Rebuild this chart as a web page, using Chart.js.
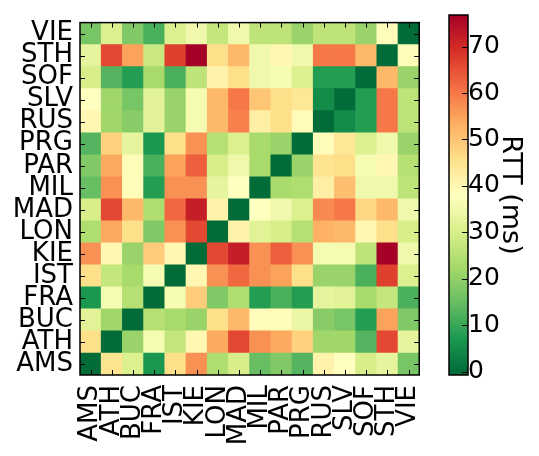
<!DOCTYPE html>
<html lang="en">
<head>
<meta charset="UTF-8" />
<title>RTT heatmap</title>
<script src="https://cdn.jsdelivr.net/npm/chart.js"></script>
<style>
  html, body { margin: 0; padding: 0; background: #fff; }
  #wrap { position: relative; width: 539px; height: 456px; }
  #heat { position: absolute; left: 0; top: 0; }
  #cbar { position: absolute; left: 440px; top: 0; }
</style>
</head>
<body>
<div id="wrap">
  <canvas id="heat" width="450" height="456"></canvas>
  <canvas id="cbar" width="99" height="456"></canvas>
</div>
<script>
  // row/column order, AMS is the bottom row
  const cities = ['AMS', 'ATH', 'BUC', 'FRA', 'IST', 'KIE', 'LON', 'MAD', 'MIL', 'PAR', 'PRG', 'RUS', 'SLV', 'SOF', 'STH', 'VIE'];

  // RTT in ms, one array per row, columns in the order of `cities`
  const AMS = [0, 45, 31, 7, 46, 57, 24, 30, 15, 18, 13, 41, 38, 30, 33, 17];
  const ATH = [46, 0, 21, 36, 27, 40, 54, 66, 57, 54, 48, 22, 22, 13, 66, 33];
  const BUC = [32, 22, 0, 25, 23, 21, 46, 52, 39, 39, 34, 19, 17, 8, 55, 18];
  const FRA = [7, 36, 25, 0, 36, 49, 18, 24, 8, 12, 8, 33, 32, 23, 27, 12];
  const IST = [46, 27, 23, 36, 0, 40, 57, 62, 57, 55, 46, 21, 21, 12, 67, 31];
  const KIE = [57, 40, 21, 49, 40, 0, 66, 72, 57, 63, 57, 36, 36, 26, 77, 35];
  const LON = [24, 54, 46, 18, 57, 66, 0, 41, 32, 30, 25, 53, 52, 40, 46, 30];
  const MAD = [30, 66, 52, 24, 62, 72, 41, 0, 38, 35, 31, 58, 60, 47, 52, 35];
  const MIL = [15, 57, 39, 8, 57, 57, 33, 38, 0, 23, 24, 42, 51, 35, 35, 26];
  const PAR = [18, 54, 39, 12, 55, 63, 30, 35, 23, 0, 21, 45, 46, 36, 40, 25];
  const PRG = [13, 48, 33, 7, 46, 57, 25, 31, 23, 21, 0, 39, 44, 31, 35, 21];
  const RUS = [40, 22, 19, 32, 21, 36, 52, 59, 42, 46, 39, 0, 5, 8, 60, 26];
  const SLV = [38, 22, 17, 32, 21, 36, 52, 60, 50, 46, 44, 5, 0, 8, 60, 26];
  const SOF = [30, 13, 8, 23, 12, 26, 41, 46, 35, 36, 31, 8, 8, 0, 52, 21];
  const STH = [33, 66, 55, 28, 67, 77, 46, 52, 35, 40, 35, 60, 60, 52, 0, 39];
  const VIE = [17, 31, 18, 12, 31, 35, 27, 35, 26, 26, 21, 26, 26, 21, 39, 0];
  const rows = [AMS, ATH, BUC, FRA, IST, KIE, LON, MAD, MIL, PAR, PRG, RUS, SLV, SOF, STH, VIE];

  // colour scale
  const cbMin = -0.7;
  const cbMax = 76.8;
  const cbTicks = [0, 10, 20, 30, 40, 50, 60, 70];

  // RdYlGn reversed (green = low, red = high)
  const cmap = [
    [0, 104, 55], [26, 152, 80], [102, 189, 99], [166, 217, 106], [217, 239, 139],
    [255, 255, 191], [254, 224, 139], [253, 174, 97], [244, 109, 67], [215, 48, 39], [165, 0, 38]
  ];

  function rttColor(v) {
    let t = (v - cbMin) / (cbMax - cbMin);
    t = Math.max(0, Math.min(1, t)) * (cmap.length - 1);
    const i = Math.min(Math.floor(t), cmap.length - 2);
    const f = t - i;
    const c = cmap[i].map((a, k) => Math.round(a + (cmap[i + 1][k] - a) * f));
    return `rgb(${c[0]},${c[1]},${c[2]})`;
  }

  Chart.defaults.font.family = "'DejaVu Sans', sans-serif";
  Chart.defaults.color = '#000';

  // black frame + inward ticks, matplotlib style
  const frame = {
    id: 'frame',
    afterDraw(chart) {
      const { ctx, chartArea: a, scales } = chart;
      ctx.save();
      ctx.strokeStyle = '#000';
      ctx.lineWidth = 1;
      ctx.beginPath();
      scales.x.ticks.forEach((t, i) => {
        const px = Math.round(scales.x.getPixelForTick(i)) + 0.5;
        ctx.moveTo(px, a.top); ctx.lineTo(px, a.top + 5);
        ctx.moveTo(px, a.bottom); ctx.lineTo(px, a.bottom - 5);
      });
      scales.y.ticks.forEach((t, i) => {
        const py = Math.round(scales.y.getPixelForTick(i)) + 0.5;
        ctx.moveTo(a.left, py); ctx.lineTo(a.left + 5, py);
        ctx.moveTo(a.right, py); ctx.lineTo(a.right - 5, py);
      });
      ctx.stroke();
      ctx.lineWidth = 1.5;
      ctx.strokeRect(a.left, a.top, a.width, a.height);
      ctx.restore();
    }
  };

  new Chart(document.getElementById('heat'), {
    type: 'bar',
    data: {
      labels: cities,
      datasets: rows.map((vals, r) => ({
        label: cities[r],
        data: vals.map(() => [r, r + 1]),
        backgroundColor: vals.map(rttColor),
        borderWidth: 0,
        grouped: false,
        barPercentage: 1,
        categoryPercentage: 1
      }))
    },
    options: {
      responsive: false,
      animation: false,
      layout: { padding: { top: 12, right: 5, left: 0, bottom: 0 } },
      plugins: { legend: { display: false }, tooltip: { enabled: false } },
      scales: {
        x: {
          grid: { display: false, drawTicks: false },
          border: { display: false },
          ticks: { autoSkip: false, minRotation: 90, maxRotation: 90, padding: 10, font: { size: 26 } },
          afterFit: s => { s.height = 81; }
        },
        y: {
          min: 0, max: 16,
          grid: { display: false, drawTicks: false },
          border: { display: false },
          afterBuildTicks: s => { s.ticks = cities.map((c, i) => ({ value: i + 0.5 })); },
          ticks: { autoSkip: false, padding: 7, font: { size: 26 }, callback: (v, i) => cities[i] },
          afterFit: s => { s.width = 80; }
        }
      }
    },
    plugins: [frame]
  });

  // colour bar
  const cbFrame = {
    id: 'cbFrame',
    afterDraw(chart) {
      const { ctx, chartArea: a, scales } = chart;
      ctx.save();
      ctx.strokeStyle = '#000';
      ctx.lineWidth = 1;
      ctx.beginPath();
      scales.y.ticks.forEach(t => {
        const py = Math.round(scales.y.getPixelForValue(t.value)) + 0.5;
        ctx.moveTo(a.right, py); ctx.lineTo(a.right - 6, py);
      });
      ctx.stroke();
      ctx.lineWidth = 1.5;
      ctx.strokeRect(a.left, a.top, a.width, a.height);
      ctx.restore();
    }
  };

  new Chart(document.getElementById('cbar'), {
    type: 'bar',
    data: {
      labels: ['RTT'],
      datasets: [{
        data: [[cbMin, cbMax]],
        borderWidth: 0,
        barPercentage: 1,
        categoryPercentage: 1,
        backgroundColor: c => {
          const chart = c.chart;
          if (!chart.chartArea) return null;
          const y = chart.scales.y;
          const g = chart.ctx.createLinearGradient(0, y.getPixelForValue(cbMin), 0, y.getPixelForValue(cbMax));
          cmap.forEach((col, i) => g.addColorStop(i / (cmap.length - 1), `rgb(${col[0]},${col[1]},${col[2]})`));
          return g;
        }
      }]
    },
    options: {
      responsive: false,
      animation: false,
      layout: { padding: { top: 12, left: 9, right: 0, bottom: 81 } },
      plugins: { legend: { display: false }, tooltip: { enabled: false } },
      scales: {
        x: { display: false },
        y: {
          position: 'right',
          min: cbMin, max: cbMax,
          grid: { display: false, drawTicks: false },
          border: { display: false },
          afterBuildTicks: s => { s.ticks = cbTicks.map(v => ({ value: v })); },
          ticks: { padding: 0, font: { size: 25 } },
          title: { display: true, text: 'RTT (ms)', font: { size: 27 }, padding: { top: 13, bottom: 0 } },
          afterFit: s => { s.width = 71; }
        }
      }
    },
    plugins: [cbFrame]
  });
</script>
</body>
</html>
